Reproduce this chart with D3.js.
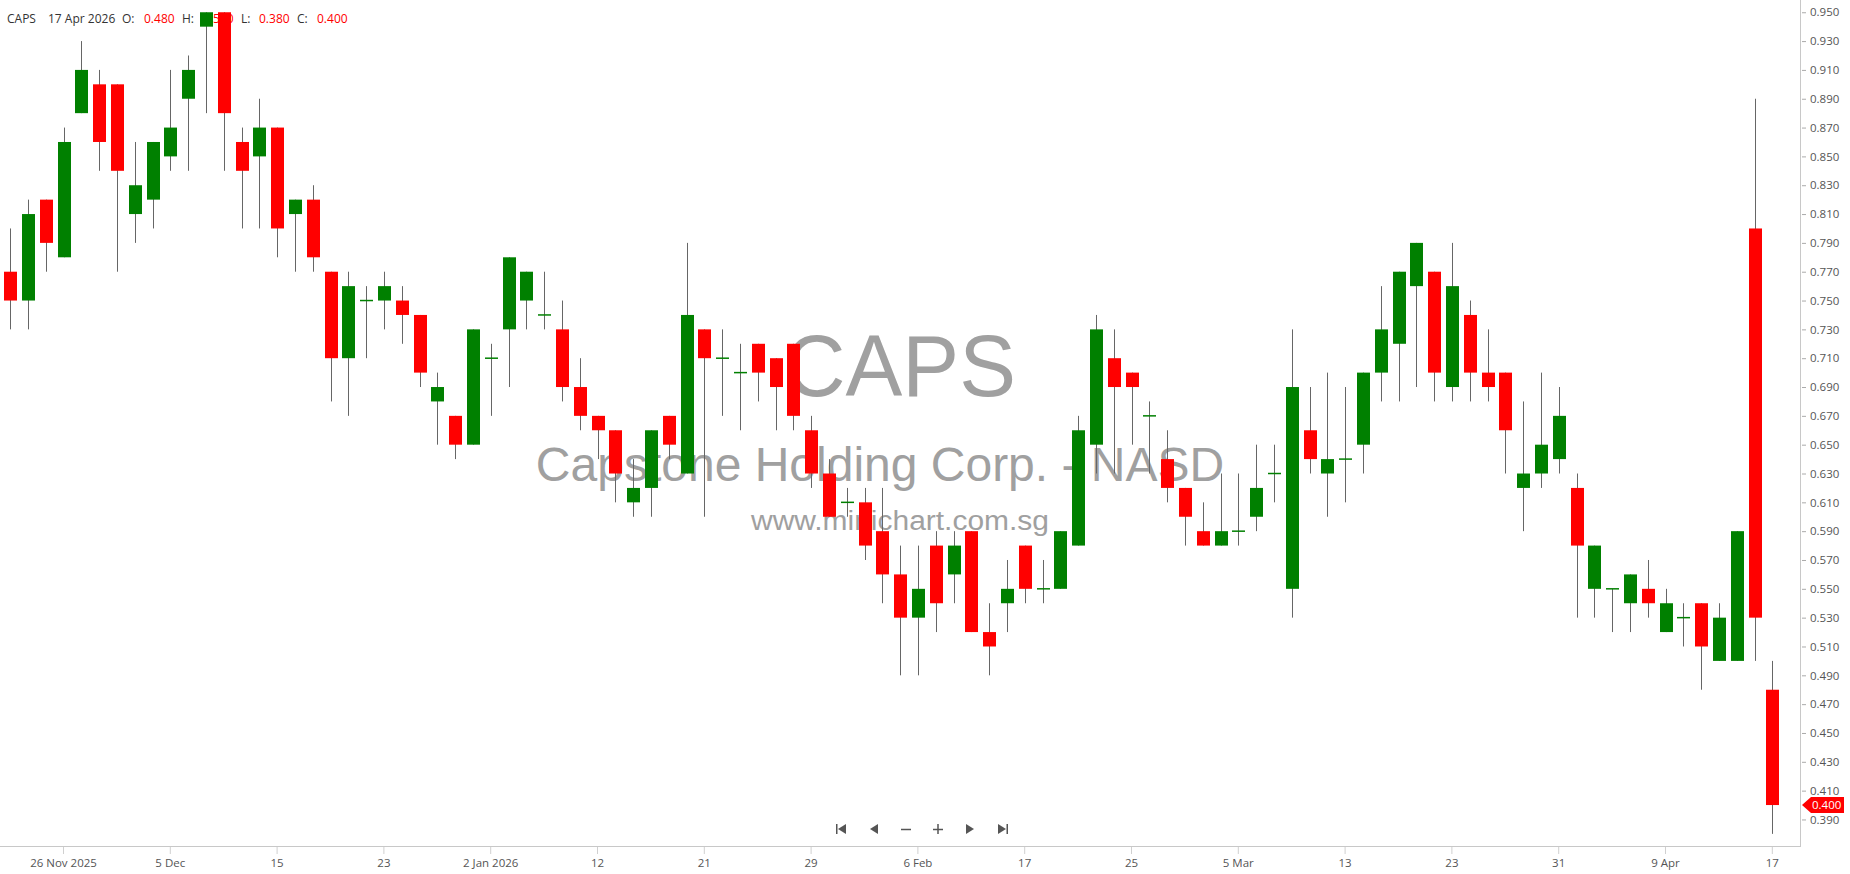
<!DOCTYPE html>
<html>
<head>
<meta charset="utf-8">
<script src="https://cdn.jsdelivr.net/npm/d3@7/dist/d3.min.js"></script>
<style>
  body { margin: 0; background: #fff; }
  svg { display: block; font-family: "Open Sans", "Liberation Sans", sans-serif; }
</style>
</head>
<body>
<svg id="chart" width="1850" height="874"></svg>
<script>
// trading days, 21 Nov 2025 .. 17 Apr 2026
var dates = [
  "2025-11-21","2025-11-24","2025-11-25","2025-11-26","2025-11-28",
  "2025-12-01","2025-12-02","2025-12-03","2025-12-04","2025-12-05",
  "2025-12-08","2025-12-09","2025-12-10","2025-12-11","2025-12-12",
  "2025-12-15","2025-12-16","2025-12-17","2025-12-18","2025-12-19",
  "2025-12-22","2025-12-23","2025-12-24","2025-12-26","2025-12-29",
  "2025-12-30","2025-12-31","2026-01-02","2026-01-05","2026-01-06",
  "2026-01-07","2026-01-08","2026-01-09","2026-01-12","2026-01-13",
  "2026-01-14","2026-01-15","2026-01-16","2026-01-20","2026-01-21",
  "2026-01-22","2026-01-23","2026-01-26","2026-01-27","2026-01-28",
  "2026-01-29","2026-01-30","2026-02-02","2026-02-03","2026-02-04",
  "2026-02-05","2026-02-06","2026-02-09","2026-02-10","2026-02-11",
  "2026-02-12","2026-02-13","2026-02-17","2026-02-18","2026-02-19",
  "2026-02-20","2026-02-23","2026-02-24","2026-02-25","2026-02-26",
  "2026-02-27","2026-03-02","2026-03-03","2026-03-04","2026-03-05",
  "2026-03-06","2026-03-09","2026-03-10","2026-03-11","2026-03-12",
  "2026-03-13","2026-03-16","2026-03-17","2026-03-18","2026-03-19",
  "2026-03-20","2026-03-23","2026-03-24","2026-03-25","2026-03-26",
  "2026-03-27","2026-03-30","2026-03-31","2026-04-01","2026-04-02",
  "2026-04-06","2026-04-07","2026-04-08","2026-04-09","2026-04-10",
  "2026-04-13","2026-04-14","2026-04-15","2026-04-16","2026-04-17"
];

var open = [
  0.77,0.75,0.82,0.78,0.88,0.90,0.90,0.81,0.82,0.85,
  0.89,0.94,0.95,0.86,0.85,0.87,0.81,0.82,0.77,0.71,
  0.75,0.75,0.75,0.74,0.68,0.67,0.65,0.71,0.73,0.75,
  0.74,0.73,0.69,0.67,0.66,0.61,0.62,0.67,0.63,0.73,
  0.71,0.70,0.72,0.71,0.72,0.66,0.63,0.61,0.61,0.59,
  0.56,0.53,0.58,0.56,0.59,0.52,0.54,0.58,0.55,0.55,
  0.58,0.65,0.71,0.70,0.67,0.64,0.62,0.59,0.58,0.59,
  0.60,0.63,0.55,0.66,0.63,0.64,0.65,0.70,0.72,0.76,
  0.77,0.69,0.74,0.70,0.70,0.62,0.63,0.64,0.62,0.55,
  0.55,0.54,0.55,0.52,0.53,0.54,0.50,0.50,0.80,0.48
];
var high = [
  0.80,0.82,0.82,0.87,0.93,0.91,0.90,0.86,0.86,0.91,
  0.92,0.95,0.95,0.87,0.89,0.87,0.82,0.83,0.77,0.77,
  0.76,0.77,0.76,0.74,0.70,0.67,0.73,0.72,0.78,0.77,
  0.77,0.75,0.71,0.67,0.66,0.64,0.66,0.67,0.79,0.73,
  0.73,0.72,0.72,0.71,0.72,0.67,0.64,0.62,0.62,0.62,
  0.58,0.58,0.59,0.59,0.59,0.54,0.57,0.58,0.57,0.59,
  0.67,0.74,0.73,0.70,0.68,0.66,0.62,0.61,0.63,0.63,
  0.65,0.65,0.73,0.69,0.70,0.69,0.70,0.76,0.77,0.79,
  0.77,0.79,0.75,0.73,0.70,0.68,0.70,0.69,0.63,0.58,
  0.55,0.56,0.57,0.55,0.54,0.54,0.54,0.59,0.89,0.50
];
var low = [
  0.73,0.73,0.77,0.78,0.88,0.84,0.77,0.79,0.80,0.84,
  0.84,0.88,0.84,0.80,0.80,0.78,0.77,0.77,0.68,0.67,
  0.71,0.73,0.72,0.69,0.65,0.64,0.65,0.67,0.69,0.73,
  0.73,0.68,0.66,0.64,0.61,0.60,0.60,0.64,0.63,0.60,
  0.67,0.66,0.68,0.66,0.66,0.62,0.60,0.60,0.57,0.54,
  0.49,0.49,0.52,0.54,0.52,0.49,0.52,0.54,0.54,0.55,
  0.58,0.63,0.63,0.65,0.63,0.61,0.58,0.58,0.58,0.58,
  0.59,0.61,0.53,0.63,0.60,0.61,0.63,0.68,0.68,0.69,
  0.68,0.68,0.68,0.68,0.63,0.59,0.62,0.63,0.53,0.53,
  0.52,0.52,0.53,0.52,0.51,0.48,0.50,0.50,0.50,0.38
];
var close = [
  0.75,0.81,0.79,0.86,0.91,0.86,0.84,0.83,0.86,0.87,
  0.91,0.95,0.88,0.84,0.87,0.80,0.82,0.78,0.71,0.76,
  0.75,0.76,0.74,0.70,0.69,0.65,0.73,0.71,0.78,0.77,
  0.74,0.69,0.67,0.66,0.63,0.62,0.66,0.65,0.74,0.71,
  0.71,0.70,0.70,0.69,0.67,0.63,0.60,0.61,0.58,0.56,
  0.53,0.55,0.54,0.58,0.52,0.51,0.55,0.55,0.55,0.59,
  0.66,0.73,0.69,0.69,0.67,0.62,0.60,0.58,0.59,0.59,
  0.62,0.63,0.69,0.64,0.64,0.64,0.70,0.73,0.77,0.79,
  0.70,0.76,0.70,0.69,0.66,0.63,0.65,0.67,0.58,0.58,
  0.55,0.56,0.54,0.54,0.53,0.51,0.53,0.59,0.53,0.40
];

var tickDates = ["2025-11-26","2025-12-05","2025-12-15","2025-12-23","2026-01-02","2026-01-12",
  "2026-01-21","2026-01-29","2026-02-06","2026-02-17","2026-02-25","2026-03-05","2026-03-13",
  "2026-03-23","2026-03-31","2026-04-09","2026-04-17"];
var tickLabels = ["26 Nov 2025","5 Dec","15","23","2 Jan 2026","12","21","29","6 Feb","17","25",
  "5 Mar","13","23","31","9 Apr","17"];
var priceTicks = [0.39,0.41,0.43,0.45,0.47,0.49,0.51,0.53,0.55,0.57,0.59,0.61,0.63,0.65,0.67,
  0.69,0.71,0.73,0.75,0.77,0.79,0.81,0.83,0.85,0.87,0.89,0.91,0.93,0.95];

var symbol = "CAPS";
var company = "Capstone Holding Corp. - NASD";
var site = "www.minichart.com.sg";

var W = 1850, H = 874, plotRight = 1800, plotBottom = 846.7;
var up = "#008000", down = "#ff0000";

var svg = d3.select("#chart");
svg.append("rect").attr("width", W).attr("height", H).attr("fill", "#fff");

var x = d3.scaleBand().domain(dates).range([1.2, 1781.2]);
var y = d3.scaleLinear().domain([0.3711, 0.9585]).range([plotBottom, 0]);

var candles = dates.map(function (d, i) {
  return { date: d, o: open[i], h: high[i], l: low[i], c: close[i] };
});
var last = candles[candles.length - 1];

// header line (drawn first, candles sit on top of it)
var hdr = svg.append("g").attr("font-size", 12);
var hdrParts = [
  [7, symbol, "#333"], [48, "17 Apr 2026", "#333"],
  [122, "O:", "#333"], [144, last.o.toFixed(3), down],
  [182, "H:", "#333"], [203, last.h.toFixed(3), down],
  [241, "L:", "#333"], [259, last.l.toFixed(3), down],
  [297, "C:", "#333"], [317, last.c.toFixed(3), down]
];
hdr.selectAll("text").data(hdrParts).enter().append("text")
  .attr("x", function (d) { return d[0]; })
  .attr("y", 22.5)
  .attr("fill", function (d) { return d[2]; })
  .text(function (d) { return d[1]; });

// watermark
var wm = svg.append("g").attr("fill", "#a0a0a0").attr("text-anchor", "middle")
  .attr("font-family", "'Liberation Sans', Arial, sans-serif");
wm.append("text").attr("x", 900).attr("y", 396).attr("font-size", 88)
  .attr("textLength", 232).attr("lengthAdjust", "spacingAndGlyphs").text(symbol);
wm.append("text").attr("x", 880).attr("y", 481).attr("font-size", 48).text(company);
wm.append("text").attr("x", 900).attr("y", 530).attr("font-size", 27)
  .attr("textLength", 298).attr("lengthAdjust", "spacingAndGlyphs").text(site);

// axes
svg.append("line").attr("x1", 0).attr("x2", plotRight).attr("y1", 846.5).attr("y2", 846.5)
  .attr("stroke", "#c8c8c8");
svg.append("line").attr("x1", plotRight + 0.5).attr("x2", plotRight + 0.5).attr("y1", 0).attr("y2", 847)
  .attr("stroke", "#c8c8c8");

var xAxis = d3.axisBottom(x).tickValues(tickDates).tickSize(7).tickPadding(5)
  .tickFormat(function (d) { return tickLabels[tickDates.indexOf(d)]; });
var gx = svg.append("g").attr("transform", "translate(0," + 847 + ")").call(xAxis);
gx.select(".domain").remove();
gx.selectAll(".tick line").attr("stroke", "#d0d0d0");
gx.selectAll(".tick text").attr("fill", "#555").attr("font-size", 11.5)
  .attr("font-family", "'Open Sans', sans-serif");

var yAxis = d3.axisRight(y).tickValues(priceTicks).tickSize(4).tickPadding(4)
  .tickFormat(d3.format(".3f"));
var gy = svg.append("g").attr("transform", "translate(" + (plotRight + 2) + ",0)").call(yAxis);
gy.select(".domain").remove();
gy.selectAll(".tick line").attr("stroke", "#aaa");
gy.selectAll(".tick text").attr("fill", "#555").attr("font-size", 11.5)
  .attr("font-family", "'Open Sans', sans-serif");

// candles
var bw = Math.round(x.bandwidth() * 0.74);
function cx(d) { return Math.round(x(d.date) + x.bandwidth() / 2); }

var g = svg.append("g");
g.selectAll("line.wick").data(candles).enter().append("line")
  .attr("class", "wick")
  .attr("x1", function (d) { return cx(d) + 0.5; })
  .attr("x2", function (d) { return cx(d) + 0.5; })
  .attr("y1", function (d) { return y(d.h); })
  .attr("y2", function (d) { return y(d.l); })
  .attr("stroke", "#666").attr("stroke-width", 1);

g.selectAll("rect.body").data(candles.filter(function (d) { return d.o !== d.c; })).enter().append("rect")
  .attr("class", "body")
  .attr("x", function (d) { return cx(d) - bw / 2 + 0.5; })
  .attr("width", bw)
  .attr("y", function (d) { return y(Math.max(d.o, d.c)); })
  .attr("height", function (d) { return Math.abs(y(d.o) - y(d.c)); })
  .attr("fill", function (d) { return d.c > d.o ? up : down; });

g.selectAll("line.doji").data(candles.filter(function (d) { return d.o === d.c; })).enter().append("line")
  .attr("class", "doji")
  .attr("x1", function (d) { return cx(d) - bw / 2 + 0.5; })
  .attr("x2", function (d) { return cx(d) + bw / 2 + 0.5; })
  .attr("y1", function (d) { return y(d.c); })
  .attr("y2", function (d) { return y(d.c); })
  .attr("stroke", up).attr("stroke-width", 1.5);

// last price marker
var ly = y(last.c), mEnd = 1844;
svg.append("path")
  .attr("d", "M" + (plotRight + 2) + "," + ly + "L" + (plotRight + 11) + "," + (ly - 8) +
    "L" + mEnd + "," + (ly - 8) + "L" + mEnd + "," + (ly + 8) + "L" + (plotRight + 11) + "," + (ly + 8) + "Z")
  .attr("fill", down);
svg.append("text").attr("x", plotRight + 12).attr("y", ly + 4).attr("fill", "#fff")
  .attr("font-size", 11.5).text(last.c.toFixed(3));

// navigation buttons
var nav = svg.append("g").attr("fill", "#555").attr("stroke", "#555");
var ny = 829;
nav.append("rect").attr("x", 836).attr("y", ny - 5).attr("width", 1.5).attr("height", 10).attr("stroke", "none");
nav.append("path").attr("d", "M846," + (ny - 5) + "L838," + ny + "L846," + (ny + 5) + "Z").attr("stroke", "none");
nav.append("path").attr("d", "M878," + (ny - 5) + "L870," + ny + "L878," + (ny + 5) + "Z").attr("stroke", "none");
nav.append("line").attr("x1", 901).attr("x2", 911).attr("y1", ny + 0.5).attr("y2", ny + 0.5).attr("stroke-width", 1.5);
nav.append("line").attr("x1", 933).attr("x2", 943).attr("y1", ny + 0.5).attr("y2", ny + 0.5).attr("stroke-width", 1.5);
nav.append("line").attr("x1", 938).attr("x2", 938).attr("y1", ny - 5).attr("y2", ny + 5).attr("stroke-width", 1.5);
nav.append("path").attr("d", "M966," + (ny - 5) + "L974," + ny + "L966," + (ny + 5) + "Z").attr("stroke", "none");
nav.append("path").attr("d", "M998," + (ny - 5) + "L1006," + ny + "L998," + (ny + 5) + "Z").attr("stroke", "none");
nav.append("rect").attr("x", 1006.5).attr("y", ny - 5).attr("width", 1.5).attr("height", 10).attr("stroke", "none");
</script>
</body>
</html>
